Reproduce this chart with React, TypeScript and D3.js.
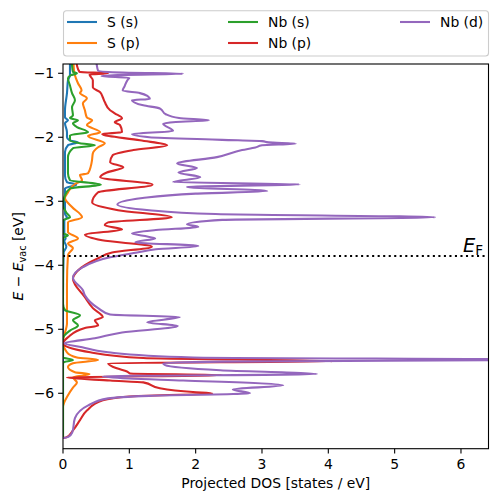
import React from 'react';
import * as d3 from 'd3';

const W = 498;
const H = 502;
const PLOT = { left: 63, right: 488.5, top: 64, bottom: 448.7 };

const xDomain = [0, 6.415];
const yDomain = [-6.866, -0.855];
const xTicks = [0, 1, 2, 3, 4, 5, 6];
const yTicks = [-6, -5, -4, -3, -2, -1];
const fermiLevel = -3.855;

const seriesNames = ['S (s)', 'S (p)', 'Nb (s)', 'Nb (p)', 'Nb (d)'];
const seriesColors = ['#1f77b4', '#ff7f0e', '#2ca02c', '#d62728', '#9467bd'];

// [energy (eV), projected DOS (states/eV)]
const sS: [number, number][] = [
  [-0.8, 0.11], [-0.875, 0.105], [-1.03, 0.105], [-1.109, 0.075], [-1.31, 0.06], [-1.578, 0.03],
  [-1.69, 0.03], [-1.734, 0.075], [-1.78, 0.03], [-1.92, 0.06], [-2.0, 0.06], [-2.05, 0.1],
  [-2.078, 0.226], [-2.125, 0.075], [-2.23, 0.03], [-2.6, 0.03], [-2.7, 0.06], [-2.74, 0.2],
  [-2.8, 0.03], [-3.2, 0.03], [-3.25, 0.06], [-3.3, 0.02], [-3.55, 0.02], [-3.58, 0.04],
  [-3.62, 0.02], [-3.71, 0.05], [-3.8, 0.01], [-4.5, 0.0], [-6.7, 0.0],
];

const sP: [number, number][] = [
  [-0.8, 0.16], [-0.875, 0.16], [-1.03, 0.18], [-1.156, 0.226], [-1.266, 0.28], [-1.31, 0.256],
  [-1.39, 0.36], [-1.47, 0.3], [-1.578, 0.33], [-1.69, 0.36], [-1.734, 0.44], [-1.81, 0.36],
  [-1.92, 0.56], [-1.98, 0.377], [-2.094, 0.63], [-2.156, 0.53], [-2.25, 0.45], [-2.36, 0.437],
  [-2.45, 0.42], [-2.5625, 0.377], [-2.59, 0.256], [-2.67, 0.287], [-2.73, 0.18], [-2.86, 0.075],
  [-2.95, 0.03], [-3.09, 0.136], [-3.25, 0.287], [-3.33, 0.075], [-3.48, 0.075], [-3.58, 0.226],
  [-3.66, 0.075], [-3.73, 0.15], [-3.84, 0.075], [-4.3, 0.06], [-4.9, 0.06], [-5.2, 0.0],
  [-5.36, 0.06], [-5.44, 0.21], [-5.48, 0.53], [-5.53, 0.15], [-5.59, 0.075], [-5.67, 0.18],
  [-5.7, 0.4], [-5.75, 0.15], [-5.83, 0.21], [-5.91, 0.15], [-6.03, 0.075], [-6.22, 0.0], [-6.7, 0.0],
];

const nbS: [number, number][] = [
  [-0.8, 0.13], [-0.875, 0.136], [-0.98, 0.15], [-1.0, 0.21], [-1.03, 0.12], [-1.078, 0.075],
  [-1.19, 0.105], [-1.31, 0.136], [-1.42, 0.18], [-1.53, 0.136], [-1.66, 0.15], [-1.7, 0.105],
  [-1.734, 0.226], [-1.78, 0.15], [-1.84, 0.21], [-1.92, 0.377], [-1.97, 0.105], [-2.047, 0.105],
  [-2.094, 0.256], [-2.125, 0.48], [-2.17, 0.15], [-2.31, 0.075], [-2.5625, 0.075], [-2.67, 0.105],
  [-2.74, 0.57], [-2.8, 0.105], [-2.91, 0.03], [-3.06, 0.0], [-3.19, 0.06], [-3.25, 0.105],
  [-3.3, 0.0], [-3.5, 0.0], [-3.53, 0.075], [-3.58, 0.0], [-4.6, 0.0], [-4.7, 0.03],
  [-4.78, 0.256], [-4.86, 0.15], [-4.94, 0.226], [-5.02, 0.105], [-5.14, 0.0], [-5.44, 0.0],
  [-5.48, 0.15], [-5.52, 0.0], [-6.7, 0.0],
];

const nbP: [number, number][] = [
  [-0.8, 0.2], [-0.875, 0.21], [-0.98, 0.25], [-1.0, 0.68], [-1.02, 0.4], [-1.109, 0.45],
  [-1.22, 0.45], [-1.297, 0.56], [-1.375, 0.6], [-1.45, 0.63], [-1.578, 0.71], [-1.625, 0.78],
  [-1.703, 0.89], [-1.766, 0.78], [-1.81, 0.86], [-1.92, 0.89], [-1.95, 0.59], [-2.047, 1.16],
  [-2.125, 1.57], [-2.2, 1.06], [-2.28, 0.75], [-2.39, 0.71], [-2.47, 0.91], [-2.55, 0.66],
  [-2.625, 0.56], [-2.74, 1.35], [-2.86, 0.53], [-3.02, 0.44], [-3.14, 0.83], [-3.25, 1.64],
  [-3.33, 0.68], [-3.375, 0.63], [-3.44, 0.89], [-3.52, 0.33], [-3.61, 0.59], [-3.71, 1.34],
  [-3.8, 0.74], [-3.89, 0.53], [-4.08, 0.226], [-4.21, 0.15], [-4.5, 0.33], [-4.67, 0.45],
  [-4.81, 0.6], [-4.86, 0.48], [-4.94, 0.53], [-4.98, 0.33], [-5.125, 0.075], [-5.22, 0.0],
  [-5.36, 0.41], [-5.45, 1.21], [-5.5, 4.06], [-5.53, 0.68], [-5.61, 0.81], [-5.66, 0.965],
  [-5.69, 1.01], [-5.715, 2.4], [-5.755, 0.06], [-5.8, 0.71], [-5.83, 1.21], [-5.92, 1.46],
  [-5.98, 1.96], [-6.0, 2.25], [-6.05, 1.0], [-6.11, 0.6], [-6.27, 0.36], [-6.42, 0.256],
  [-6.58, 0.15], [-6.69, 0.05], [-6.7, 0.0],
];

const nbD: [number, number][] = [
  [-0.8, 0.5], [-0.875, 0.51], [-0.96, 0.53], [-0.99, 0.9], [-1.008, 1.81], [-1.025, 0.9],
  [-1.045, 0.58], [-1.07, 1.0], [-1.11, 0.97], [-1.2, 0.93], [-1.27, 0.9], [-1.31, 1.16],
  [-1.36, 1.28], [-1.4, 1.31], [-1.42, 1.04], [-1.5, 1.21], [-1.55, 1.46], [-1.64, 1.55],
  [-1.7, 1.75], [-1.735, 2.2], [-1.76, 1.7], [-1.79, 1.51], [-1.9, 1.66], [-1.95, 1.04],
  [-2.0, 1.3], [-2.04, 2.4], [-2.06, 3.0], [-2.08, 3.1], [-2.1, 3.51], [-2.125, 3.0],
  [-2.16, 2.9], [-2.2, 2.7], [-2.31, 2.32], [-2.41, 1.72], [-2.48, 2.02], [-2.55, 1.74],
  [-2.625, 2.07], [-2.7, 1.66], [-2.735, 3.57], [-2.775, 1.87], [-2.84, 3.08], [-2.88, 2.0],
  [-2.95, 1.2], [-3.05, 0.82], [-3.14, 1.3], [-3.2, 2.3], [-3.25, 5.61], [-3.29, 2.4],
  [-3.36, 1.87], [-3.4, 2.04], [-3.45, 1.4], [-3.5, 1.04], [-3.54, 1.21], [-3.58, 1.39],
  [-3.64, 1.09], [-3.7, 2.04], [-3.75, 1.4], [-3.8, 1.12], [-3.875, 0.71], [-4.03, 0.3],
  [-4.2, 0.15], [-4.39, 0.3], [-4.47, 0.33], [-4.67, 0.53], [-4.77, 0.71], [-4.81, 1.76],
  [-4.89, 1.27], [-4.95, 1.73], [-5.05, 0.89], [-5.14, 0.48], [-5.22, 0.02], [-5.28, 0.29],
  [-5.36, 0.68], [-5.44, 1.96], [-5.475, 7.5], [-5.505, 2.4], [-5.53, 1.51], [-5.56, 1.54],
  [-5.64, 2.37], [-5.7, 3.83], [-5.735, 0.6], [-5.77, 1.0], [-5.8, 1.81], [-5.875, 3.32],
  [-5.94, 2.56], [-6.0, 2.82], [-6.04, 1.3], [-6.08, 0.68], [-6.19, 0.38], [-6.39, 0.18],
  [-6.61, 0.14], [-6.68, 0.08], [-6.7, 0.0],
];

const seriesData = [sS, sP, nbS, nbP, nbD];

const FONT = 'DejaVu Sans';
const FS = 13.9;
const LW = 2.08;

export default function App() {
  const x = d3.scaleLinear().domain(xDomain).range([PLOT.left, PLOT.right]);
  const y = d3.scaleLinear().domain(yDomain).range([PLOT.bottom, PLOT.top]);
  const line = d3
    .line<[number, number]>()
    .x((d) => x(d[1]))
    .y((d) => y(d[0]))
    .curve(d3.curveMonotoneY);

  const legendCols = [
    { x: 67, items: [0, 1] },
    { x: 228, items: [2, 3] },
    { x: 400, items: [4] },
  ];
  const rowY = [22, 43];

  return (
    <svg
      width={W}
      height={H}
      style={{ position: 'absolute', left: 0, top: 0, background: '#fff' }}
      fontFamily={FONT}
    >
      <defs>
        <clipPath id="plotclip">
          <rect x={PLOT.left} y={PLOT.top} width={PLOT.right - PLOT.left} height={PLOT.bottom - PLOT.top} />
        </clipPath>
      </defs>
      <rect x={0} y={0} width={W} height={H} fill="#fff" />
      <g clipPath="url(#plotclip)">
        {seriesData.map((d, i) => (
          <path key={i} d={line(d) || ''} fill="none" stroke={seriesColors[i]} strokeWidth={LW} strokeLinejoin="round" />
        ))}
        <line
          x1={PLOT.left}
          x2={PLOT.right}
          y1={y(fermiLevel)}
          y2={y(fermiLevel)}
          stroke="#000"
          strokeWidth={LW}
          strokeDasharray="2.08 3.44"
        />
      </g>
      <text x={483} y={252} fontSize={19.4} textAnchor="end">
        <tspan fontStyle="italic">E</tspan>
        <tspan fontSize={13.6} dy={3}>F</tspan>
      </text>
      {/* frame */}
      <rect
        x={PLOT.left}
        y={PLOT.top}
        width={PLOT.right - PLOT.left}
        height={PLOT.bottom - PLOT.top}
        fill="none"
        stroke="#000"
        strokeWidth={1.1}
      />
      {/* x ticks */}
      {xTicks.map((t) => (
        <g key={t}>
          <line x1={x(t)} x2={x(t)} y1={PLOT.bottom} y2={PLOT.bottom + 4.9} stroke="#000" strokeWidth={1.1} />
          <text x={x(t)} y={PLOT.bottom + 19.8} fontSize={FS} textAnchor="middle">
            {t}
          </text>
        </g>
      ))}
      {/* y ticks */}
      {yTicks.map((t) => (
        <g key={t}>
          <line x1={PLOT.left - 4.9} x2={PLOT.left} y1={y(t)} y2={y(t)} stroke="#000" strokeWidth={1.1} />
          <text x={PLOT.left - 8.8} y={y(t)} fontSize={FS} textAnchor="end" dominantBaseline="central">
            {'\u2212' + Math.abs(t)}
          </text>
        </g>
      ))}
      <text x={(PLOT.left + PLOT.right) / 2} y={488} fontSize={FS} textAnchor="middle">
        Projected DOS [states / eV]
      </text>
      <text
        transform={`translate(23,${(PLOT.top + PLOT.bottom) / 2}) rotate(-90)`}
        fontSize={FS}
        textAnchor="middle"
      >
        <tspan fontStyle="italic">E</tspan>
        <tspan> − </tspan>
        <tspan fontStyle="italic">E</tspan>
        <tspan fontSize={9.7} dy={2.5}>vac</tspan>
        <tspan dy={-2.5}> [eV]</tspan>
      </text>
      {/* legend */}
      <rect x={63.5} y={10.7} width={425} height={45.3} rx={3} fill="#fff" fillOpacity={0.8} stroke="#cccccc" strokeWidth={1.1} />
      {legendCols.map((c, ci) =>
        c.items.map((si, ri) => (
          <g key={`${ci}-${ri}`}>
            <line x1={c.x} x2={c.x + 30} y1={rowY[ri]} y2={rowY[ri]} stroke={seriesColors[si]} strokeWidth={LW} />
            <text x={c.x + 40} y={rowY[ri]} fontSize={FS} dominantBaseline="central">
              {seriesNames[si]}
            </text>
          </g>
        ))
      )}
    </svg>
  );
}
